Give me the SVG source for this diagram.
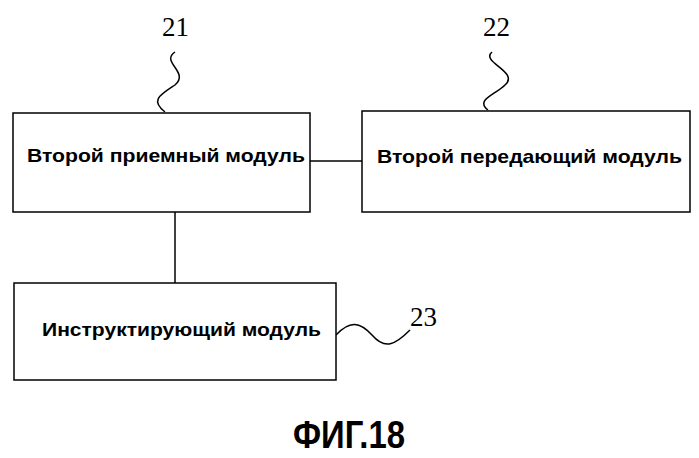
<svg xmlns="http://www.w3.org/2000/svg" width="699" height="458" viewBox="0 0 699 458">
<style>
.box{fill:#fff;stroke:#000;stroke-width:1.5}
.t{font-family:"Liberation Sans",Arial,sans-serif;font-size:19px;font-weight:bold}
.n{font-family:"Liberation Serif",serif;font-size:27px}
.c{fill:none;stroke:#000;stroke-width:1.5}
</style>
<rect width="699" height="458" fill="#fff"/>
<g id="connectors">
<line class="c" x1="310" y1="161" x2="362" y2="161"/>
<line class="c" x1="175" y1="212" x2="175" y2="283"/>
<path class="c" d="M175,52 C160,62 190,72 175,85 C160,95 150,100 165,112"/>
<path class="c" d="M492,52 C480,62 520,72 505,85 C495,95 475,100 488,110"/>
<path class="c" d="M336,335 C350,320 360,322 372,335 C385,350 395,345 410,330"/>
</g>
<g id="n21"><rect class="box" x="13" y="113" width="297" height="99"/>
<text class="t" x="27" y="162" textLength="278" lengthAdjust="spacingAndGlyphs">Второй приемный модуль</text>
<text class="n" x="162" y="36">21</text></g>
<g id="n22"><rect class="box" x="362" y="111" width="328" height="101"/>
<text class="t" x="377" y="163" textLength="305" lengthAdjust="spacingAndGlyphs">Второй передающий модуль</text>
<text class="n" x="483" y="36">22</text></g>
<g id="n23"><rect class="box" x="14" y="283" width="322" height="97"/>
<text class="t" x="42" y="336" textLength="279" lengthAdjust="spacingAndGlyphs">Инструктирующий модуль</text>
<text class="n" x="410" y="326">23</text></g>
<text x="349" y="448" text-anchor="middle" font-family="Liberation Sans,Arial,sans-serif" font-size="38" font-weight="bold" textLength="112" lengthAdjust="spacingAndGlyphs">ФИГ.18</text>
</svg>
